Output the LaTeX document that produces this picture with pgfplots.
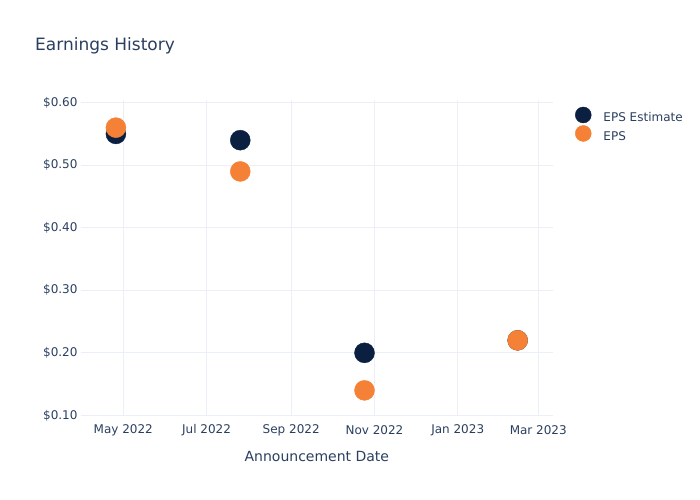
\documentclass[border=0pt]{standalone}
\usepackage{fontspec}
\setmainfont{DejaVu Sans}
\usepackage{pgfplots}
\pgfplotsset{compat=1.18}
\definecolor{navyc}{HTML}{0B1F41}
\definecolor{orangec}{HTML}{F58137}
\definecolor{txt}{HTML}{2A3F5F}
\definecolor{gridc}{HTML}{EBF0F8}
\begin{document}
\begin{tikzpicture}
\path (0bp,0bp) rectangle (700bp,-500bp);
\node[anchor=west,text=txt,font=\fontsize{17bp}{20bp}\selectfont,inner sep=0pt] at (35bp,-45.5bp) {Earnings History};
\begin{axis}[
  at={(80.7bp,-416bp)}, anchor=south west,
  scale only axis, width=472.3bp, height=316.5bp,
  xmin=88.8, xmax=434.8, ymin=0.099, ymax=0.605,
  axis line style={draw=none}, tick style={draw=none},
  major tick length=0pt,
  grid=major, grid style={gridc, line width=1bp},
  xtick={120,181,243,304,365,424},
  xticklabels={May 2022,Jul 2022,Sep 2022,Nov 2022,Jan 2023,Mar 2023},
  ytick={0.1,0.2,0.3,0.4,0.5,0.6},
  yticklabels={\$0.10,\$0.20,\$0.30,\$0.40,\$0.50,\$0.60},
  ticklabel style={text=txt,font=\fontsize{12bp}{14bp}\selectfont},
  x tick label style={anchor=center,yshift=-14bp,inner sep=0pt},
  y tick label style={anchor=east,xshift=-3bp,inner sep=0pt},
  xlabel={Announcement Date},
  xlabel style={at={(axis description cs:0.5,0)},anchor=center,yshift=-40bp,text=txt,font=\fontsize{14bp}{17bp}\selectfont},
  legend style={at={(axis description cs:1.04,0.984)},anchor=north west,draw=none,fill=none,
    font=\fontsize{12bp}{14bp}\selectfont,text=txt,row sep=0bp,
    /tikz/every odd column/.append style={column sep=10bp}},
  legend cell align=left,
  clip=false,
]
\addplot[navyc, only marks, mark=*, mark size=10bp, mark options={draw=navyc,fill=navyc},
  legend image code/.code={\fill[navyc] (4bp,0.3em) circle (8bp);}]
  coordinates {(114.6,0.55) (205.7,0.54) (296.7,0.20) (408.9,0.22)};
\addlegendentry{EPS Estimate}
\addplot[orangec, only marks, mark=*, mark size=10bp, mark options={draw=orangec,fill=orangec},
  legend image code/.code={\fill[orangec] (4bp,0.3em) circle (8bp);}]
  coordinates {(114.6,0.56) (205.7,0.49) (296.7,0.14) (408.9,0.22)};
\addlegendentry{EPS}
\end{axis}
\end{tikzpicture}
\end{document}
